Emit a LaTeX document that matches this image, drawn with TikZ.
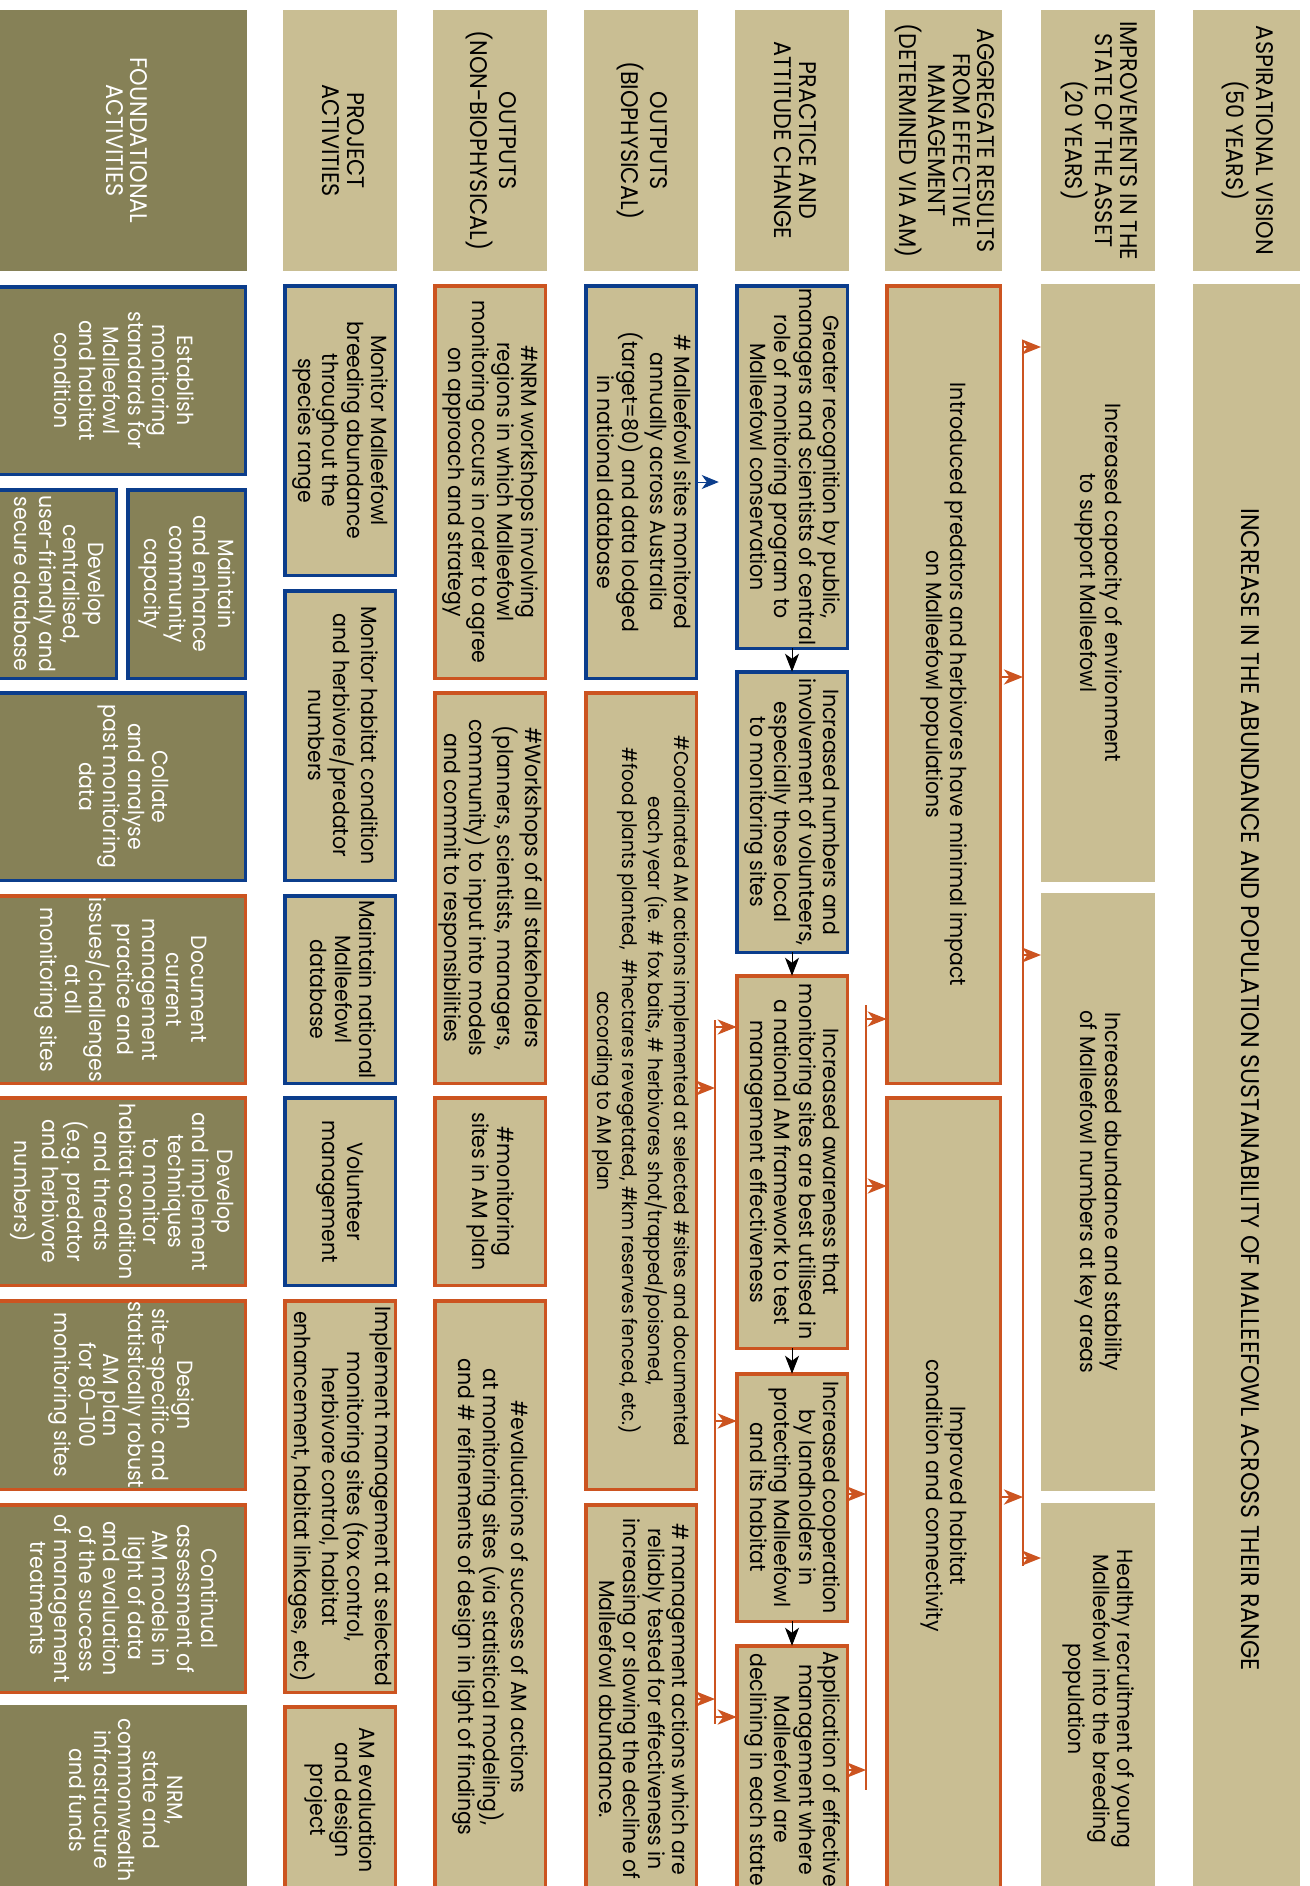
\documentclass[tikz,border=0pt]{standalone}
\usepackage{fontspec}
\setmainfont{Poppins}[FakeStretch=0.93]
\usepackage{graphicx}
\usetikzlibrary{arrows.meta}
\definecolor{tanC}{HTML}{C9BE93}
\definecolor{oliveC}{HTML}{868157}
\definecolor{bblue}{HTML}{0B3D8C}
\definecolor{borange}{HTML}{CC5420}
\newcommand\vt[1]{\rotatebox{-90}{\begin{tabular}{@{}c@{}}#1\end{tabular}}}
% box node (exact size) + separate text node at its centre
\newcommand\bx[7]{\node[#2, minimum width={(#5)-(#3)}, minimum height={(#6)-(#4)}] (#1) at ({((#3)+(#5))/2},{((#4)+(#6))/2}) {};
  \node[#2, draw=none, fill=none, minimum width=0pt, minimum height=0pt] (#1t) at (#1.center) {\vt{#7}};}
\newcommand\bbx[7]{\node[#2, minimum width={(#5)-(#3)-3.5}, minimum height={(#6)-(#4)-3.5}] (#1) at ({((#3)+(#5))/2},{((#4)+(#6))/2}) {};
  \node[#2, draw=none, fill=none, minimum width=0pt, minimum height=0pt] (#1t) at (#1.center) {\vt{#7}};}
\tikzset{
  base/.style={inner sep=0pt, outer sep=0pt, font=\fontsize{22}{24.5}\selectfont, align=center},
  hd/.style={font=\fontsize{24}{24.5}\selectfont},
  tanbox/.style={base, fill=tanC, text=black},
  olivebox/.style={base, fill=oliveC, text=white},
  bluebd/.style={draw=bblue, line width=3.5pt},
  orgbd/.style={draw=borange, line width=3.5pt},
  oline/.style={draw=borange, line width=2.8pt},
  oarr/.style={oline, -{Stealth[length=19pt,width=15pt,inset=5.5pt]}},
  barr/.style={draw=black, line width=1pt, -{Stealth[length=18pt,width=14pt,inset=5pt]}},
  bluearr/.style={draw=bblue, line width=1pt, -{Stealth[length=17pt,width=14pt,inset=5pt]}}
}
\begin{document}
\begin{tikzpicture}[x=1pt,y=-1pt]
\useasboundingbox (0,0) rectangle (1309,1886);
\fill[white] (0,0) rectangle (1309,1886);
\clip (0,0) rectangle (1309,1886);
% headers
\bx{hF}{olivebox,hd}{0}{10}{247}{271}{FOUNDATIONAL\\ACTIVITIES}
\bx{hP}{tanbox,hd}{283}{10}{397}{271}{PROJECT\\ACTIVITIES}
\bx{hN}{tanbox,hd}{433}{10}{547}{271}{OUTPUTS\\(NON-BIOPHYSICAL)}
\bx{hB}{tanbox,hd}{584}{10}{698}{271}{OUTPUTS\\(BIOPHYSICAL)}
\bx{hC}{tanbox,hd}{735}{10}{849}{271}{PRACTICE AND\\ATTITUDE CHANGE}
\bx{hA}{tanbox,hd}{885}{10}{1002}{271}{AGGREGATE RESULTS\\FROM EFFECTIVE\\MANAGEMENT\\(DETERMINED VIA AM)}
\bx{hI}{tanbox,hd}{1041}{10}{1155}{271}{IMPROVEMENTS IN THE\\STATE OF THE ASSET\\(20 YEARS)}
\bx{hV}{tanbox,hd}{1193}{10}{1300}{271}{ASPIRATIONAL VISION\\(50 YEARS)}
% foundational
\bbx{f1}{olivebox,bluebd}{-5}{285}{247}{476}{Establish\\monitoring\\standards for\\Malleefowl\\and habitat\\condition}
\bbx{f2a}{olivebox,bluebd}{126}{488}{247}{680}{Maintain\\and enhance\\community\\capacity}
\bbx{f2b}{olivebox,bluebd}{-5}{488}{118}{680}{Develop\\centralised,\\user-friendly and\\secure database}
\bbx{f3}{olivebox,bluebd}{-5}{691}{247}{882}{Collate\\and analyse\\past monitoring\\data}
\bbx{f4}{olivebox,orgbd}{-5}{894}{247}{1085}{Document\\current\\management\\practice and\\issues/challenges\\at all\\monitoring sites}
\bbx{f5}{olivebox,orgbd}{-5}{1096}{247}{1287}{Develop\\and implement\\techniques\\to monitor\\habitat condition\\and threats\\(e.g. predator\\and herbivore\\numbers)}
\bbx{f6}{olivebox,orgbd}{-5}{1299}{247}{1491}{Design\\site-specific and\\statistically robust\\AM plan\\for 80–100\\monitoring sites}
\bbx{f7}{olivebox,orgbd}{-5}{1503}{247}{1694}{Continual\\assessment of\\AM models in\\light of data\\and evaluation\\of the success\\of management\\treatments}
\bx{f8}{olivebox}{0}{1705}{247}{1895}{NRM,\\state and\\commonwealth\\infrastructure\\and funds}
% project
\bbx{p1}{tanbox,bluebd}{283}{284}{397}{577}{Monitor Malleefowl\\breeding abundance\\throughout the\\species range}
\bbx{p2}{tanbox,bluebd}{283}{589}{397}{882}{Monitor habitat condition\\and herbivore/predator\\numbers}
\bbx{p3}{tanbox,bluebd}{283}{894}{397}{1085}{Maintain national\\Malleefowl\\database}
\bbx{p4}{tanbox,bluebd}{283}{1096}{397}{1287}{Volunteer\\management}
\bbx{p5}{tanbox,orgbd}{283}{1299}{397}{1694}{Implement management at selected\\monitoring sites (fox control,\\herbivore control, habitat\\enhancement, habitat linkages, etc)}
\bbx{p6}{tanbox,orgbd}{283}{1705}{397}{1895}{AM evaluation\\and design\\project}
% outputs non-bio
\bbx{n1}{tanbox,orgbd}{433}{284}{547}{680}{\#NRM workshops involving\\regions in which Malleefowl\\monitoring occurs in order to agree\\on approach and strategy}
\bbx{n2}{tanbox,orgbd}{433}{691}{547}{1085}{\#Workshops of all stakeholders\\(planners, scientists, managers,\\community) to input into models\\and commit to responsibilities}
\bbx{n3}{tanbox,orgbd}{433}{1096}{547}{1287}{\#monitoring\\sites in AM plan}
\bbx{n4}{tanbox,orgbd}{433}{1299}{547}{1895}{\#evaluations of success of AM actions\\at monitoring sites (via statistical modeling),\\and \# refinements of design in light of findings}
% outputs bio
\bbx{b1}{tanbox,bluebd}{584}{284}{698}{680}{\# Malleefowl sites monitored\\annually across Australia\\(target=80) and data lodged\\in national database}
\bbx{b2}{tanbox,orgbd,font=\fontsize{20}{24.5}\selectfont}{584}{691}{698}{1491}{\#Coordinated AM actions implemented at selected \#sites and documented\\each year (ie. \# fox baits, \# herbivores shot/trapped/poisoned,\\\#food plants planted, \ \#hectares revegetated, \#km reserves fenced, etc.)\\according to AM plan}
\bbx{b3}{tanbox,orgbd}{584}{1503}{698}{1895}{\# management actions which are\\reliably tested for effectiveness in\\increasing or slowing the decline of\\Malleefowl abundance.}
% practice
\bbx{c1}{tanbox,bluebd}{735}{284}{849}{650}{Greater recognition by public,\\managers and scientists of central\\role of monitoring program to\\Malleefowl conservation}
\bbx{c2}{tanbox,bluebd}{735}{670}{849}{954}{Increased numbers and\\involvement of volunteers,\\especially those local\\to monitoring sites}
\bbx{c3}{tanbox,orgbd}{735}{974}{849}{1350}{Increased awareness that\\monitoring sites are best utilised in\\a national AM framework to test\\management effectiveness}
\bbx{c4}{tanbox,orgbd}{735}{1372}{849}{1623}{Increased cooperation\\by landholders in\\protecting Malleefowl\\and its habitat}
\bbx{c5}{tanbox,orgbd}{735}{1644}{849}{1895}{Application of effective\\management where\\Malleefowl are\\declining in each state}
% aggregate
\bbx{a1}{tanbox,orgbd}{885}{284}{1002}{1085}{Introduced predators and herbivores have minimal impact\\on Malleefowl populations}
\bbx{a2}{tanbox,orgbd}{885}{1096}{1002}{1895}{Improved habitat\\condition and connectivity}
% improvements
\bx{i1}{tanbox}{1041}{284}{1155}{882}{Increased capacity of environment\\to support Malleefowl}
\bx{i2}{tanbox}{1041}{893}{1155}{1491}{Increased abundance and stability\\of Malleefowl numbers at key areas}
\bx{i3}{tanbox}{1041}{1503}{1155}{1895}{Healthy recruitment of young\\Malleefowl into the breeding\\population}
% vision
\bx{v}{tanbox,font=\fontsize{25.5}{24.5}\selectfont}{1193}{284}{1300}{1895}{INCREASE IN THE ABUNDANCE AND POPULATION SUSTAINABILITY OF MALLEEFOWL ACROSS THEIR RANGE}
% line 1
\coordinate (L1a) at (1023,340);
\coordinate (L1b) at (1023,1566);
\draw[oline] (L1a) -- (L1b);
\draw[oarr] (L1a |- 0,347) -- (i1.west |- 0,347);
\draw[oarr] (a1.east |- 0,677) -- (L1a |- 0,677);
\draw[oarr] (L1a |- 0,955) -- (i2.west |- 0,955);
\draw[oarr] (a2.east |- 0,1497) -- (L1a |- 0,1497);
\draw[oarr] (L1a |- 0,1558) -- (i3.west |- 0,1558);
% line 2
\coordinate (L2a) at (866,1005);
\coordinate (L2b) at (866,1790);
\draw[oline] (L2a) -- (L2b);
\draw[oarr] (L2a |- 0,1019) -- (a1.west |- 0,1019);
\draw[oarr] (L2a |- 0,1186) -- (a2.west |- 0,1186);
\draw[oarr] (c4.east |- 0,1494) -- (L2a |- 0,1494);
\draw[oarr] (c5.east |- 0,1770) -- (L2a |- 0,1770);
% line 3
\coordinate (L3a) at (715,1020);
\coordinate (L3b) at (715,1724);
\draw[oline] (L3a) -- (L3b);
\draw[oarr] (L3a |- 0,1027) -- (c3.west |- 0,1027);
\draw[oarr] (b2.east |- 0,1088) -- (L3a |- 0,1088);
\draw[oarr] (L3a |- 0,1421) -- (c4.west |- 0,1421);
\draw[oarr] (b3.east |- 0,1699) -- (L3a |- 0,1699);
\draw[oarr] (L3a |- 0,1717) -- (c5.west |- 0,1717);
% blue and black arrows
\draw[bluearr, shorten >=18pt] (b1.east |- 0,482) -- (c1.west |- 0,482);
\draw[barr] (c1.south) -- (c2.north);
\draw[barr] (c2.south) -- (c3.north);
\draw[barr] (c3.south) -- (c4.north);
\draw[barr] (c4.south) -- (c5.north);
\end{tikzpicture}
\end{document}
